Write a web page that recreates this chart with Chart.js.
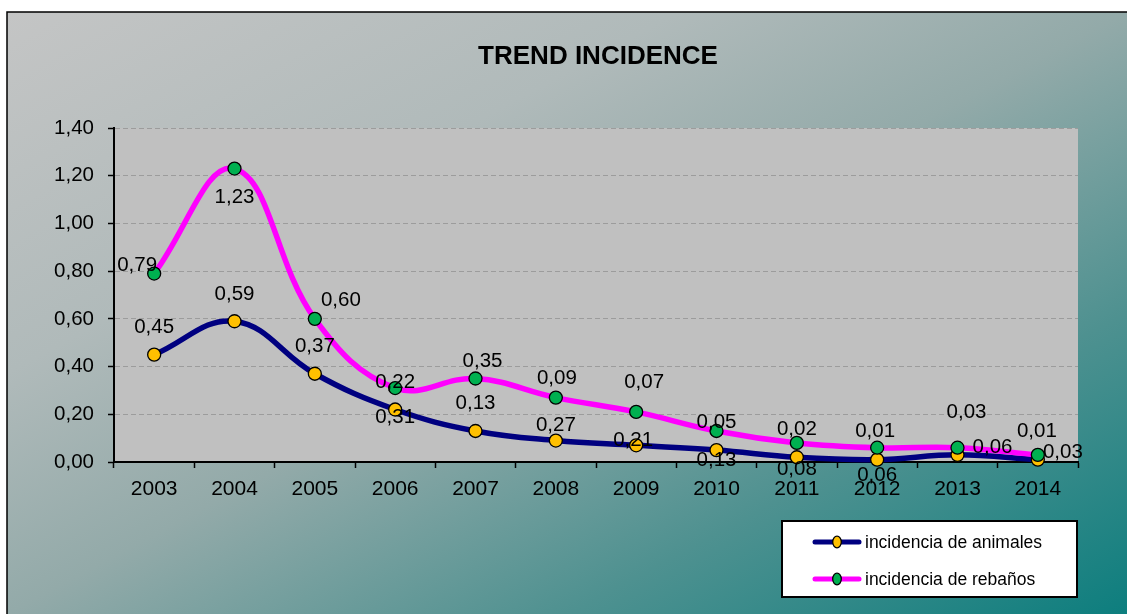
<!DOCTYPE html>
<html>
<head>
<meta charset="utf-8">
<script src="https://cdn.jsdelivr.net/npm/chart.js@4/dist/chart.umd.min.js"></script>
<style>
  html, body { margin: 0; padding: 0; background: #fff; }
  #wrap { position: relative; width: 1127px; height: 614px; }
</style>
</head>
<body>
<div id="wrap"><canvas id="trend"></canvas></div>
<script>
const chartTitle = "TREND INCIDENCE";
const years = ["2003", "2004", "2005", "2006", "2007", "2008", "2009", "2010", "2011", "2012", "2013", "2014"];
const animales = [0.45, 0.59, 0.37, 0.22, 0.13, 0.09, 0.07, 0.05, 0.02, 0.01, 0.03, 0.01];
const rebanos = [0.79, 1.23, 0.60, 0.31, 0.35, 0.27, 0.21, 0.13, 0.08, 0.06, 0.06, 0.03];
const yTicks = [0, 0.2, 0.4, 0.6, 0.8, 1.0, 1.2, 1.4];

// label offsets (px) from each point, as they sit in the original
const animalesLabelOffset = [[0, -27], [0, -27], [0, -27], [0, -27], [0, -28], [1, -62], [8, -63], [0, -28], [0, -28], [-2, -28], [9, -42], [-1, -28]];
const rebanosLabelOffset = [[-17, -8], [0, 29], [26, -19], [0, 29], [7, -17], [0, 28], [-3, 28], [0, 29], [0, 26], [0, 28], [35, 0], [25, -2]];

const font = "'Liberation Sans', Arial, sans-serif";
const fmt = (v) => v.toFixed(2).replace(".", ",");

// fondo degradado + área de trazado gris
const backdrop = {
  id: "backdrop",
  beforeDraw(chart) {
    const { ctx, chartArea: a } = chart;
    ctx.save();
    ctx.fillStyle = "#fff";
    ctx.fillRect(0, 0, chart.width, chart.height);
    const g = ctx.createLinearGradient(7, 12, 509, 946);
    g.addColorStop(0, "#c4c5c5");
    g.addColorStop(0.3, "#b0baba");
    g.addColorStop(0.5, "#93aaa9");
    g.addColorStop(0.75, "#4e9190");
    g.addColorStop(1, "#0d7e7e");
    ctx.fillStyle = g;
    ctx.fillRect(7, 12, chart.width, chart.height);
    ctx.strokeStyle = "#000";
    ctx.lineWidth = 1.5;
    ctx.strokeRect(7, 12, chart.width + 10, chart.height + 10);
    ctx.fillStyle = "#c0c0c0";
    ctx.fillRect(a.left, a.top, a.right - a.left, a.bottom - a.top);
    ctx.restore();
  },
  afterDraw(chart) {
    const { ctx } = chart;
    ctx.save();
    ctx.fillStyle = "#000";
    ctx.font = "bold 26px " + font;
    ctx.textAlign = "center";
    ctx.textBaseline = "middle";
    ctx.fillText(chartTitle, 598, 57);

    // leyenda
    ctx.fillStyle = "#fff";
    ctx.fillRect(782, 521, 295, 76);
    ctx.strokeStyle = "#000";
    ctx.lineWidth = 2;
    ctx.strokeRect(782, 521, 295, 76);
    chart.data.datasets
      .slice()
      .sort((p, q) => p.legendIndex - q.legendIndex)
      .forEach((ds, i) => {
        const y = 542 + i * 37;
        ctx.strokeStyle = ds.borderColor;
        ctx.lineWidth = 5;
        ctx.lineCap = "round";
        ctx.beginPath();
        ctx.moveTo(815, y);
        ctx.lineTo(859, y);
        ctx.stroke();
        ctx.fillStyle = ds.pointBackgroundColor;
        ctx.strokeStyle = "#000";
        ctx.lineWidth = 1.3;
        ctx.beginPath();
        ctx.ellipse(837, y, 4.3, 5.8, 0, 0, Math.PI * 2);
        ctx.fill();
        ctx.stroke();
        ctx.fillStyle = "#000";
        ctx.font = "17.5px " + font;
        ctx.textAlign = "left";
        ctx.textBaseline = "middle";
        ctx.fillText(ds.label, 865, y + 1);
      });
    ctx.restore();
  },
};

// etiquetas de datos
const dataLabels = {
  id: "dataLabels",
  afterDatasetsDraw(chart) {
    const { ctx } = chart;
    ctx.save();
    ctx.fillStyle = "#000";
    ctx.font = "20.5px " + font;
    ctx.textAlign = "center";
    ctx.textBaseline = "middle";
    chart.data.datasets.forEach((ds, di) => {
      const meta = chart.getDatasetMeta(di);
      meta.data.forEach((pt, i) => {
        const off = ds.labelOffset[i];
        ctx.fillText(fmt(ds.data[i]), pt.x + off[0], pt.y + off[1]);
      });
    });
    ctx.restore();
  },
};

new Chart(document.getElementById("trend"), {
  type: "line",
  data: {
    labels: years,
    datasets: [
      {
        label: "incidencia de animales",
        data: animales,
        labelOffset: animalesLabelOffset,
        legendIndex: 0,
        order: 1,
        borderColor: "#000080",
        borderWidth: 5.5,
        pointBackgroundColor: "#ffc000",
        pointBorderColor: "#000",
        pointBorderWidth: 1.3,
        pointRadius: 6.5,
        tension: 0.4,
        clip: false,
      },
      {
        label: "incidencia de rebaños",
        data: rebanos,
        labelOffset: rebanosLabelOffset,
        legendIndex: 1,
        order: 0,
        borderColor: "#ff00ff",
        borderWidth: 5.5,
        pointBackgroundColor: "#00b050",
        pointBorderColor: "#000",
        pointBorderWidth: 1.3,
        pointRadius: 6.5,
        tension: 0.4,
        clip: false,
      },
    ],
  },
  options: {
    responsive: true,
    maintainAspectRatio: false,
    animation: false,
    layout: { padding: { left: 0, right: 49, top: 128, bottom: 112 } },
    plugins: {
      legend: { display: false },
      title: { display: false },
      tooltip: { enabled: false },
    },
    scales: {
      x: {
        offset: true,
        grid: {
          offset: true,
          drawOnChartArea: false,
          drawTicks: true,
          tickLength: 6,
          tickColor: "#000",
          tickWidth: 1.5,
        },
        border: { color: "#000", width: 2 },
        ticks: { color: "#000", font: { family: font, size: 21 }, padding: 9, maxRotation: 0 },
        afterFit: (s) => { s.height = 40; },
      },
      y: {
        min: 0,
        max: 1.4,
        afterBuildTicks: (s) => { s.ticks = yTicks.map((v) => ({ value: v })); },
        grid: {
          color: "#9c9c9c",
          lineWidth: 1,
          tickLength: 6,
          tickColor: "#000",
          tickWidth: 1.5,
          tickBorderDash: [],
        },
        border: { color: "#000", width: 2, dash: [5, 3] },
        ticks: {
          color: "#000",
          font: { family: font, size: 20.5 },
          padding: 14,
          callback: (v) => fmt(v),
        },
        afterFit: (s) => { s.width = 114; },
      },
    },
  },
  plugins: [backdrop, dataLabels],
});
</script>
</body>
</html>
